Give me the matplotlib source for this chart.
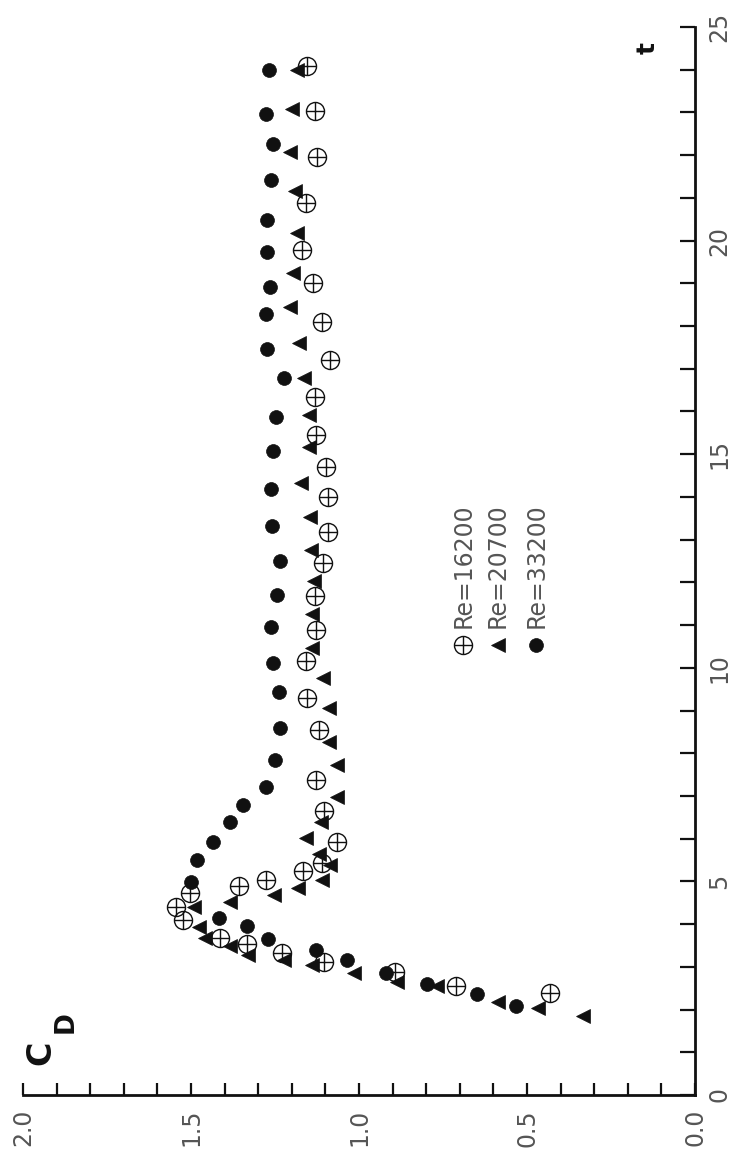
import matplotlib
matplotlib.use("Agg")
import matplotlib.pyplot as plt
from matplotlib.path import Path
from matplotlib.ticker import MultipleLocator, FixedLocator

# Drag coefficient C_D against time t for three Reynolds numbers
t_16200 = [2.39, 2.55, 2.87, 3.12, 3.33, 3.53, 3.67, 4.10, 4.39, 4.72, 4.90, 5.03,
           5.24, 5.42, 5.93, 6.65, 7.37, 8.54, 9.29, 10.17, 10.88, 11.69, 12.45,
           13.17, 13.99, 14.69, 15.45, 16.35, 17.21, 18.10, 19.00, 19.78, 20.89,
           21.95, 23.04, 24.09]
cd_16200 = [0.431, 0.710, 0.892, 1.105, 1.228, 1.332, 1.415, 1.524, 1.545, 1.503,
            1.357, 1.276, 1.167, 1.109, 1.065, 1.103, 1.127, 1.119, 1.154, 1.159,
            1.127, 1.131, 1.108, 1.092, 1.092, 1.097, 1.127, 1.132, 1.087, 1.109,
            1.137, 1.169, 1.159, 1.124, 1.132, 1.154]

t_20700 = [1.85, 2.04, 2.18, 2.54, 2.65, 2.85, 3.04, 3.16, 3.28, 3.49, 3.67, 3.93,
           4.41, 4.51, 4.68, 4.85, 5.03, 5.38, 5.64, 6.01, 6.38, 6.98, 7.72, 8.27,
           9.05, 9.75, 10.46, 11.25, 12.04, 12.76, 13.52, 14.32, 15.18, 15.92,
           16.78, 17.60, 18.45, 19.23, 20.17, 21.15, 22.08, 23.08, 23.99]
cd_20700 = [0.333, 0.467, 0.585, 0.768, 0.886, 1.015, 1.139, 1.223, 1.330, 1.384,
            1.458, 1.476, 1.491, 1.384, 1.253, 1.181, 1.109, 1.085, 1.119, 1.159,
            1.114, 1.065, 1.065, 1.090, 1.090, 1.106, 1.139, 1.139, 1.134, 1.142,
            1.147, 1.172, 1.149, 1.149, 1.165, 1.179, 1.204, 1.196, 1.186, 1.191,
            1.206, 1.199, 1.186]

t_33200 = [2.09, 2.36, 2.61, 2.85, 3.16, 3.39, 3.65, 3.96, 4.15, 4.99, 5.49, 5.92,
           6.38, 6.80, 7.22, 7.84, 8.58, 9.43, 10.12, 10.95, 11.70, 12.51, 13.33,
           14.19, 15.07, 15.88, 16.78, 17.46, 18.28, 18.92, 19.73, 20.48, 21.42,
           22.26, 22.96, 23.99]
cd_33200 = [0.533, 0.649, 0.797, 0.921, 1.035, 1.127, 1.271, 1.332, 1.418, 1.499,
            1.481, 1.436, 1.385, 1.344, 1.278, 1.251, 1.236, 1.238, 1.256, 1.263,
            1.243, 1.235, 1.260, 1.261, 1.256, 1.248, 1.224, 1.273, 1.277, 1.265,
            1.275, 1.275, 1.261, 1.256, 1.278, 1.268]

series_labels = ["Re=16200", "Re=20700", "Re=33200"]
cd_ticks = [0.0, 0.5, 1.0, 1.5, 2.0]
cd_tick_labels = ["0.0", "0.5", "1.0", "1.5", "2.0"]
t_ticks = [0, 5, 10, 15, 20, 25]
t_tick_labels = ["0", "5", "10", "15", "20", "25"]

# circle with a cross inside
oplus = Path.make_compound_path(
    Path.unit_circle(),
    Path([[-1, 0], [1, 0], [0, -1], [0, 1]],
         [Path.MOVETO, Path.LINETO, Path.MOVETO, Path.LINETO]))

ink = "#111111"
label_col = "#555555"

fig = plt.figure(figsize=(7.33, 11.57), dpi=100)
ax = fig.add_axes([23 / 733, 62 / 1157, 672 / 733, 1068 / 1157])
ax.set_facecolor("none")

styles = [
    dict(marker=oplus, ms=13, mfc="none", mec=ink, mew=1.0),
    dict(marker="<", ms=9.5, mfc=ink, mec=ink, mew=0.5),
    dict(marker="o", ms=10, mfc=ink, mec=ink, mew=0.5),
]
data = [(cd_16200, t_16200), (cd_20700, t_20700), (cd_33200, t_33200)]
for (cd, t), st in zip(data, styles):
    ax.plot(cd, t, ls="none", **st)

ax.set_xlim(2.0, 0.0)
ax.set_ylim(0, 25)

for side in ("top", "left"):
    ax.spines[side].set_visible(False)
for side in ("bottom", "right"):
    ax.spines[side].set_linewidth(2.0)
    ax.spines[side].set_color(ink)

ax.xaxis.set_major_locator(FixedLocator(cd_ticks))
ax.xaxis.set_minor_locator(MultipleLocator(0.1))
ax.set_xticklabels(cd_tick_labels, rotation=90, color=label_col, fontsize=17)
ax.tick_params(axis="x", which="both", direction="in", length=9, width=1.6,
               color=ink, pad=10)

ax.yaxis.tick_right()
ax.yaxis.set_major_locator(FixedLocator(t_ticks))
ax.yaxis.set_minor_locator(MultipleLocator(1))
ax.set_yticklabels(t_tick_labels, rotation=90, color=label_col, fontsize=17,
                   va="center")
ax.tick_params(axis="y", which="both", direction="in", length=11, width=1.6,
               color=ink, pad=9, left=False, right=True)

# axis titles
ax.text(0.026, 0.040, "C", transform=ax.transAxes, rotation=90, fontsize=24,
        fontweight="bold", color=ink, ha="center", va="center")
ax.text(0.064, 0.068, "D", transform=ax.transAxes, rotation=90, fontsize=19,
        fontweight="bold", color=ink, ha="center", va="center")
ax.text(0.930, 0.980, "t", transform=ax.transAxes, rotation=90, fontsize=18,
        fontweight="bold", color=ink, ha="center", va="center")

# key
key_x = [0.655, 0.707, 0.764]
key_y = 0.421
for kx, st, lab in zip(key_x, styles, series_labels):
    ax.plot([kx], [key_y], ls="none", transform=ax.transAxes, clip_on=False, **st)
    ax.text(kx, key_y + 0.016, lab, transform=ax.transAxes, rotation=90,
            fontsize=17, color=label_col, ha="center", va="bottom")

fig.savefig("out.png", dpi=100, facecolor="white")
